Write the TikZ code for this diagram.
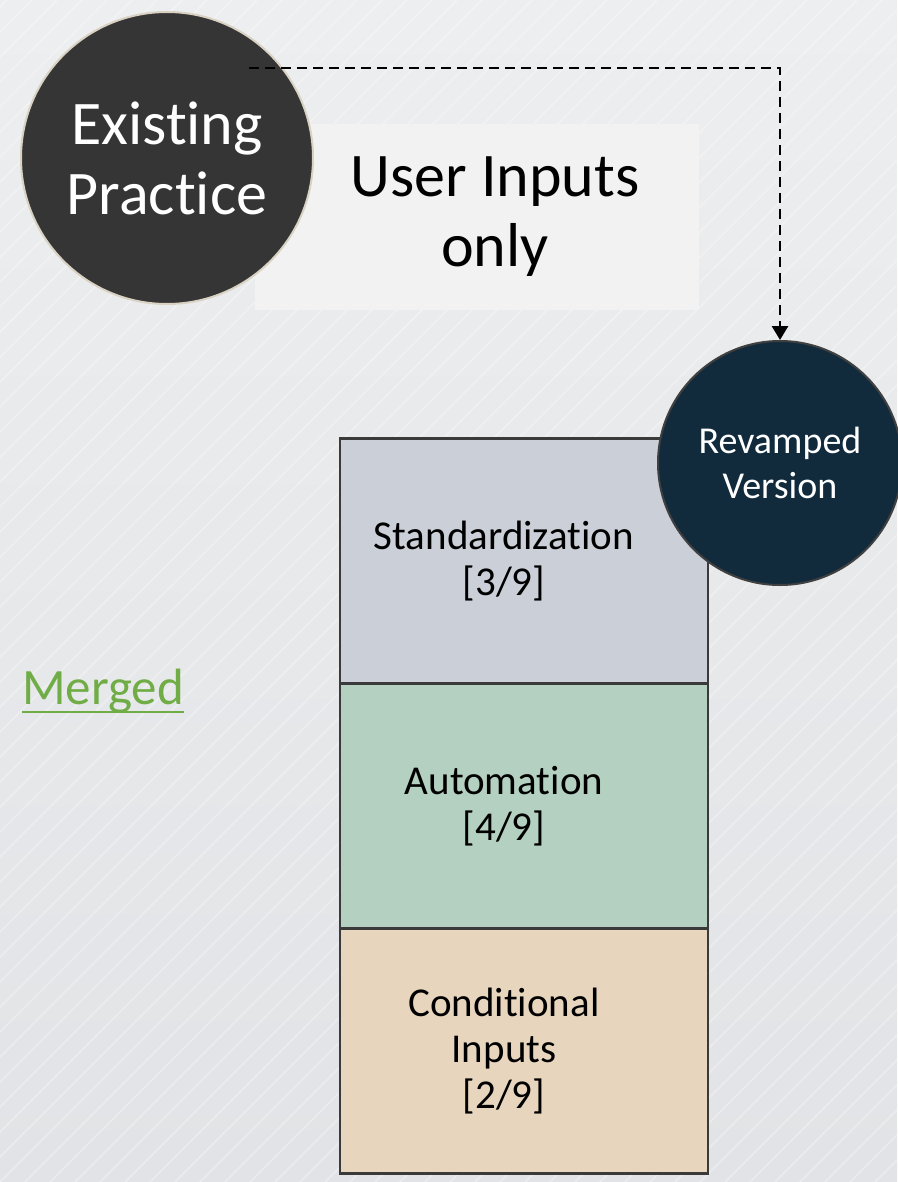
\documentclass[tikz,border=0pt]{standalone}
\usepackage{fontspec}
\setmainfont{Carlito}[Ligatures={NoCommon,NoRequired,NoContextual}]
\newcommand\myti{t\kern0pt i}
\usetikzlibrary{arrows.meta}
\definecolor{bgtop}{HTML}{EDEEEF}
\definecolor{bgbot}{HTML}{E2E3E6}
\definecolor{existc}{HTML}{353535}
\definecolor{existb}{HTML}{D9D2C3}
\definecolor{revc}{HTML}{112B3D}
\definecolor{revb}{HTML}{404040}
\definecolor{boxc}{HTML}{F2F2F2}
\definecolor{stdc}{HTML}{CBD0D8}
\definecolor{autc}{HTML}{B3D0C0}
\definecolor{conc}{HTML}{E7D6BD}
\definecolor{stkb}{HTML}{3A3A3A}
\definecolor{mergc}{HTML}{70AD47}
\tikzset{
  bigcircle/.style={circle, inner sep=0pt, align=center, text=white},
  stk/.style={rectangle, draw=stkb, line width=2.5pt, minimum width=368pt, minimum height=245pt, inner sep=0pt},
  stktxt/.style={align=center, font=\fontsize{41}{46}\selectfont, text=black, inner sep=0pt},
  stripe/.style={white, opacity=0.3, line width=1.6pt},
  dasharrow/.style={black, line width=2.8pt, dash pattern=on 10pt off 6pt, -{Triangle[length=14pt,width=16pt]}}
}
\begin{document}
\begin{tikzpicture}[x=1pt,y=-1pt]
\useasboundingbox (0,0) rectangle (897,1182);
\shade[top color=bgtop, bottom color=bgbot] (0,0) rectangle (897,1182);
\begin{scope}
\clip (0,0) rectangle (897,1182);
\foreach \i in {-1200,-1175,...,900} \draw[stripe] (\i,1182) -- (\i+1182,0);
\end{scope}

% User Inputs box
\fill[boxc] (255,124) rectangle (699,310);
\node[align=center, font=\fontsize{62}{70}\selectfont, text=black, inner sep=0pt] (user) at (495,217) {User Inputs\\only};

% Existing Practice circle
\node[bigcircle, fill=existc, draw=existb, line width=2pt, minimum size=292pt, font=\fontsize{62}{70}\selectfont] (exist) at (167,158) {Exis\myti ng\\Prac\myti ce};

% Stack
\node[stk, fill=stdc] (std) at (524,561) {};
\node[stk, fill=autc] (aut) at (524,806) {};
\node[stk, fill=conc] (con) at (524,1051) {};
\node[stktxt] (stdt) at (504,561) {Standardiza\myti on\\{[3/9]}};
\node[stktxt] (autt) at (504,806) {Automa\myti on\\{[4/9]}};
\node[stktxt] (cont) at (504,1051) {Condi\myti onal\\Inputs\\{[2/9]}};

% Revamped Version circle
\node[bigcircle, fill=revc, draw=revb, line width=2pt, minimum size=244pt, font=\fontsize{38}{45}\selectfont] (rev) at (780,463) {Revamped\\Version};

% Dashed connector
\coordinate (dstart) at (249,68);
\draw[dasharrow] (dstart) -| (rev.north);

% Merged
\node[anchor=base west, inner sep=0pt, text=mergc, font=\fontsize{51}{60}\selectfont] (merged) at (22,704) {Merged};
\draw[mergc, line width=2.6pt] ([yshift=-8pt]merged.base west) -- ([yshift=-8pt]merged.base east);
\end{tikzpicture}
\end{document}
